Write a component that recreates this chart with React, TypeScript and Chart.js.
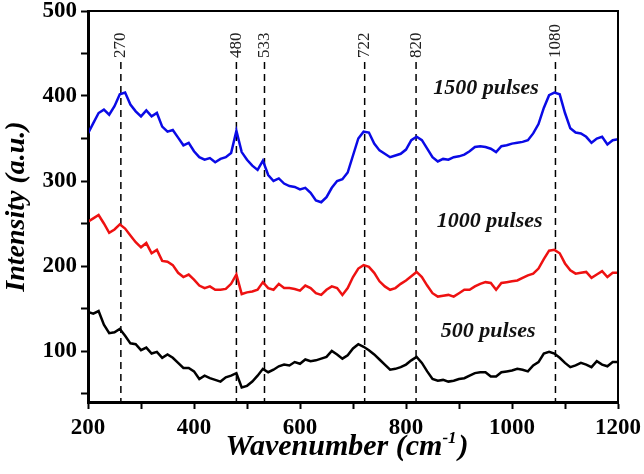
import { useEffect, useRef } from 'react';
import { Chart, registerables } from 'chart.js';

Chart.register(...registerables);

// Raman spectra, wavenumber in cm-1
const WAVENUMBER = [
  200, 210, 220, 230, 240, 250, 260, 270, 280, 290,
  300, 310, 320, 330, 340, 350, 360, 370, 380, 390,
  400, 410, 420, 430, 440, 450, 460, 470, 480, 490,
  500, 510, 520, 530, 540, 550, 560, 570, 580, 590,
  600, 610, 620, 630, 640, 650, 660, 670, 680, 690,
  700, 710, 720, 730, 740, 750, 760, 770, 780, 790,
  800, 810, 820, 830, 840, 850, 860, 870, 880, 890,
  900, 910, 920, 930, 940, 950, 960, 970, 980, 990,
  1000, 1010, 1020, 1030, 1040, 1050, 1060, 1070, 1080, 1090,
  1100, 1110, 1120, 1130, 1140, 1150, 1160, 1170, 1180, 1190,
  1200,
];

const PULSES_1500 = [
  356, 368, 380, 384, 378, 388, 402, 404, 390, 382,
  376, 383, 376, 380, 364, 358, 360, 351, 342, 345,
  335, 328, 325, 327, 322, 326, 328, 333, 359, 334,
  325, 318, 313, 324, 307, 300, 303, 297, 294, 293,
  290, 292, 286, 277, 275, 281, 292, 300, 302, 310,
  330, 350, 358, 357, 344, 336, 332, 328, 330, 332,
  337, 348, 352, 348, 338, 328, 323, 326, 325, 328,
  329, 331, 335, 340, 341, 340, 338, 334, 341, 342,
  344, 345, 346, 348, 356, 367, 386, 401, 404, 402,
  380, 362, 357, 356, 352, 345, 350, 352, 343, 348,
  349,
];

const PULSES_1000 = [
  252, 256, 260, 250, 239, 243, 249, 244, 236, 228,
  222, 227, 215, 219, 206, 205, 201, 192, 187, 190,
  184, 177, 174, 176, 172, 172, 173, 179, 190, 167,
  169, 170, 172, 181, 174, 172, 179, 174, 174, 173,
  171, 177, 174, 168, 166, 172, 176, 174, 166, 174,
  187, 197, 201, 199, 192, 182, 176, 172, 174, 179,
  183, 188, 193, 187, 177, 168, 164, 165, 166, 164,
  168, 172, 172, 176, 179, 181, 180, 172, 180, 181,
  182, 183, 186, 189, 191, 197, 208, 218, 219, 215,
  203, 195, 191, 192, 193, 186, 190, 194, 187, 192,
  192,
];

const PULSES_500 = [
  146, 144, 147, 131, 121, 122, 126, 118, 109, 108,
  101, 104, 97, 99, 92, 96, 92, 86, 80, 80,
  76, 67, 71, 68, 66, 64, 69, 71, 74, 57,
  59, 64, 71, 79, 75, 78, 82, 84, 83, 87,
  85, 90, 88, 89, 91, 93, 100, 96, 91, 95,
  103, 108, 105, 101, 96, 90, 84, 78, 79, 81,
  84, 89, 93, 86, 76, 67, 65, 66, 64, 65,
  67, 68, 71, 74, 75, 75, 70, 70, 75, 76,
  77, 79, 78, 76, 83, 87, 97, 99, 97, 92,
  86, 81, 83, 86, 84, 81, 88, 84, 82, 87,
  87,
];

const SERIES_LABELS = ['1500 pulses', '1000 pulses', '500 pulses'];
const SERIES_COLORS = ['#0a0ae6', '#ee1111', '#000000'];

const PEAK_POSITIONS = [262, 480, 533, 722, 819, 1082];
const PEAK_LABELS = ['270', '480', '533', '722', '820', '1080'];

const X_TICKS = [200, 300, 400, 500, 600, 700, 800, 900, 1000, 1100, 1200];
const Y_TICKS = [50, 100, 150, 200, 250, 300, 350, 400, 450, 500];

const X_TITLE = 'Wavenumber (cm';
const X_TITLE_SUP = '-1';
const Y_TITLE = 'Intensity (a.u.)';

const SERIF = '"Liberation Serif", "Times New Roman", serif';

// where the series names sit, in data units (wavenumber, intensity)
const LABEL_ANCHORS = [
  [951, 402],
  [958, 246],
  [955, 116],
];

const annotationPlugin = {
  id: 'ramanAnnotations',
  beforeDatasetsDraw(chart: any) {
    const { ctx, chartArea, scales } = chart;
    ctx.save();
    ctx.strokeStyle = '#000';
    ctx.lineWidth = 1.5;
    ctx.setLineDash([7, 5]);
    PEAK_POSITIONS.forEach((p) => {
      const x = scales.x.getPixelForValue(p);
      ctx.beginPath();
      ctx.moveTo(x, chartArea.top + 51);
      ctx.lineTo(x, chartArea.bottom);
      ctx.stroke();
    });
    ctx.setLineDash([]);
    ctx.fillStyle = '#222';
    ctx.font = `17px ${SERIF}`;
    ctx.textAlign = 'left';
    ctx.textBaseline = 'middle';
    PEAK_POSITIONS.forEach((p, i) => {
      const x = scales.x.getPixelForValue(p);
      ctx.save();
      ctx.translate(x, chartArea.top + 47);
      ctx.rotate(-Math.PI / 2);
      ctx.fillText(PEAK_LABELS[i], 0, 0);
      ctx.restore();
    });
    ctx.restore();
  },
  afterDraw(chart: any) {
    const { ctx, chartArea, scales } = chart;
    ctx.save();
    ctx.strokeStyle = '#000';
    ctx.lineWidth = 2;
    ctx.strokeRect(chartArea.left, chartArea.top, chartArea.right - chartArea.left, chartArea.bottom - chartArea.top);

    ctx.fillStyle = '#111';
    ctx.font = `italic bold 22px ${SERIF}`;
    ctx.textAlign = 'center';
    ctx.textBaseline = 'alphabetic';
    SERIES_LABELS.forEach((label, i) => {
      const [xv, yv] = LABEL_ANCHORS[i];
      ctx.fillText(label, scales.x.getPixelForValue(xv), scales.y.getPixelForValue(yv));
    });

    // x axis title with a real superscript
    ctx.fillStyle = '#000';
    const mainFont = `italic bold 30px ${SERIF}`;
    const supFont = `italic bold 17px ${SERIF}`;
    ctx.font = mainFont;
    const wMain = ctx.measureText(X_TITLE).width;
    const wClose = ctx.measureText(')').width;
    ctx.font = supFont;
    const wSup = ctx.measureText(X_TITLE_SUP).width;
    const total = wMain + wSup + 2 + wClose;
    const cx = (chartArea.left + chartArea.right) / 2 - 6;
    const baseY = chartArea.bottom + 53;
    let x = cx - total / 2;
    ctx.textAlign = 'left';
    ctx.font = mainFont;
    ctx.fillText(X_TITLE, x, baseY);
    x += wMain;
    ctx.font = supFont;
    ctx.fillText(X_TITLE_SUP, x, baseY - 12);
    x += wSup + 2;
    ctx.font = mainFont;
    ctx.fillText(')', x, baseY);
    ctx.restore();
  },
};

const RamanChart = () => {
  const chartRef = useRef<Chart | null>(null);
  const canvasRef = useRef<HTMLCanvasElement | null>(null);

  useEffect(() => {
    document.body.style.margin = '0';
    if (!canvasRef.current) return;
    if (chartRef.current) chartRef.current.destroy();

    const series = [PULSES_1500, PULSES_1000, PULSES_500];

    chartRef.current = new Chart(canvasRef.current, {
      type: 'line',
      data: {
        datasets: series.map((values, i) => ({
          label: SERIES_LABELS[i],
          data: WAVENUMBER.map((x, j) => ({ x, y: values[j] })),
          borderColor: SERIES_COLORS[i],
          borderWidth: 2.5,
          pointRadius: 0,
          tension: 0,
          fill: false,
        })),
      },
      options: {
        animation: false,
        responsive: true,
        maintainAspectRatio: false,
        layout: { padding: { top: 11, right: 26, left: 0, bottom: 0 } },
        plugins: {
          legend: { display: false },
          tooltip: { enabled: false },
        },
        scales: {
          x: {
            type: 'linear',
            min: 200,
            max: 1200,
            afterBuildTicks: (scale: any) => {
              scale.ticks = X_TICKS.map((value) => ({ value }));
            },
            afterFit: (scale: any) => {
              scale.height = 72;
              scale.paddingLeft = 0;
              scale.paddingRight = 0;
            },
            ticks: {
              autoSkip: false,
              maxRotation: 0,
              padding: 5,
              color: '#000',
              font: { family: SERIF, size: 23, weight: 'bold' },
              callback: (v: any) => (v % 200 === 0 ? String(v) : ''),
            },
            grid: { drawOnChartArea: false, tickLength: 7, tickWidth: 2, tickColor: '#000' },
            border: { color: '#000', width: 3 },
            title: { display: false },
          },
          y: {
            min: 40,
            max: 500,
            afterBuildTicks: (scale: any) => {
              scale.ticks = Y_TICKS.map((value) => ({ value }));
            },
            afterFit: (scale: any) => {
              scale.width = 88;
              scale.paddingTop = 0;
              scale.paddingBottom = 0;
            },
            ticks: {
              autoSkip: false,
              padding: 4,
              color: '#000',
              font: { family: SERIF, size: 23, weight: 'bold' },
              callback: (v: any) => (v % 100 === 0 ? String(v) : ''),
            },
            grid: { drawOnChartArea: false, tickLength: 7, tickWidth: 2, tickColor: '#000' },
            border: { color: '#000', width: 3 },
            title: {
              display: true,
              text: Y_TITLE,
              color: '#000',
              font: { family: SERIF, size: 28, weight: 'bold', style: 'italic' },
              padding: { top: 0, bottom: 0 },
            },
          },
        },
      },
      plugins: [annotationPlugin],
    });

    return () => {
      if (chartRef.current) {
        chartRef.current.destroy();
        chartRef.current = null;
      }
    };
  }, []);

  return (
    <div style={{ width: 644, height: 474, position: 'relative', background: '#fff' }}>
      <canvas ref={canvasRef}></canvas>
    </div>
  );
};

export default function App() {
  return <RamanChart />;
}
